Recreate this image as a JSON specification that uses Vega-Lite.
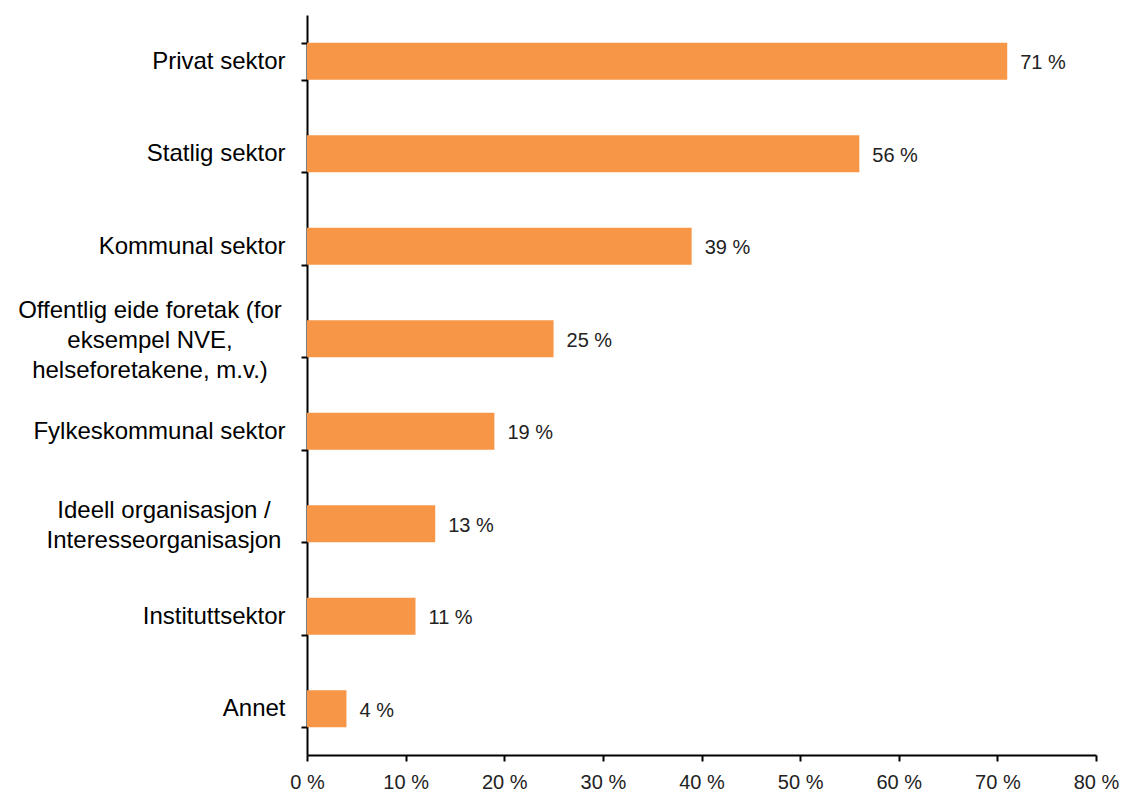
{
  "$schema": "https://vega.github.io/schema/vega-lite/v6.json",
  "autosize": "none",
  "width": 789,
  "height": 740,
  "padding": {"left": 307, "top": 15, "right": 26, "bottom": 42},
  "background": "white",
  "config": {"view": {"stroke": null}, "font": "Liberation Sans"},
  "data": {
    "values": [
      {"sektor": "Privat sektor", "andel": 71, "label": "71 %"},
      {"sektor": "Statlig sektor", "andel": 56, "label": "56 %"},
      {"sektor": "Kommunal sektor", "andel": 39, "label": "39 %"},
      {"sektor": "Offentlig eide foretak (for eksempel NVE, helseforetakene, m.v.)", "andel": 25, "label": "25 %"},
      {"sektor": "Fylkeskommunal sektor", "andel": 19, "label": "19 %"},
      {"sektor": "Ideell organisasjon / Interesseorganisasjon", "andel": 13, "label": "13 %"},
      {"sektor": "Instituttsektor", "andel": 11, "label": "11 %"},
      {"sektor": "Annet", "andel": 4, "label": "4 %"}
    ]
  },
  "encoding": {
    "y": {
      "field": "sektor",
      "type": "nominal",
      "sort": null,
      "scale": {"paddingInner": 0.6, "paddingOuter": 0.3},
      "axis": {
        "title": null,
        "tickBand": "extent",
        "domainColor": "black",
        "domainWidth": 2,
        "tickColor": "black",
        "tickWidth": 2,
        "tickSize": 6,
        "labelFont": "Liberation Sans",
        "labelFontSize": 24,
        "labelColor": "black",
        "labelBaseline": "middle",
        "labelLimit": 320,
        "labelPadding": 16,
        "labelExpr": "datum.label == 'Privat sektor' || datum.label == 'Annet' ? datum.label + '\u2002' : (indexof(datum.label, 'Offentlig') == 0 || indexof(datum.label, 'Ideell') == 0) ? '' : datum.label"
      }
    }
  },
  "layer": [
    {
      "mark": {"type": "bar", "color": "#F79646"},
      "encoding": {
        "x": {
          "field": "andel",
          "type": "quantitative",
          "scale": {"domain": [0, 80], "nice": false},
          "axis": {
            "title": null,
            "values": [0, 10, 20, 30, 40, 50, 60, 70, 80],
            "grid": false,
            "domainColor": "black",
            "domainWidth": 2,
            "tickColor": "black",
            "tickWidth": 2,
            "tickSize": 6,
            "labelFont": "Liberation Sans",
            "labelFontSize": 20,
            "labelColor": "#222222",
            "labelPadding": 11,
            "labelFlush": false,
            "labelExpr": "datum.value + ' %'"
          }
        }
      }
    },
    {
      "mark": {"type": "text", "align": "left", "baseline": "middle", "dx": 13, "dy": 2, "fontSize": 20, "color": "#222222", "font": "Liberation Sans"},
      "encoding": {
        "x": {"field": "andel", "type": "quantitative"},
        "text": {"field": "label"}
      }
    },
    {
      "transform": [{"filter": "indexof(datum.sektor, 'Offentlig') == 0"}],
      "mark": {"type": "text", "align": "center", "baseline": "middle", "dx": -157, "dy": -28, "lineHeight": 30, "fontSize": 24, "color": "black", "font": "Liberation Sans",
        "text": ["Offentlig eide foretak (for", "eksempel NVE,", "helseforetakene, m.v.)"]},
      "encoding": {
        "x": {"datum": 0, "type": "quantitative"}
      }
    },
    {
      "transform": [{"filter": "indexof(datum.sektor, 'Ideell') == 0"}],
      "mark": {"type": "text", "align": "center", "baseline": "middle", "dx": -143, "dy": -13, "lineHeight": 30, "fontSize": 24, "color": "black", "font": "Liberation Sans",
        "text": ["Ideell organisasjon /", "Interesseorganisasjon"]},
      "encoding": {
        "x": {"datum": 0, "type": "quantitative"}
      }
    }
  ]
}
